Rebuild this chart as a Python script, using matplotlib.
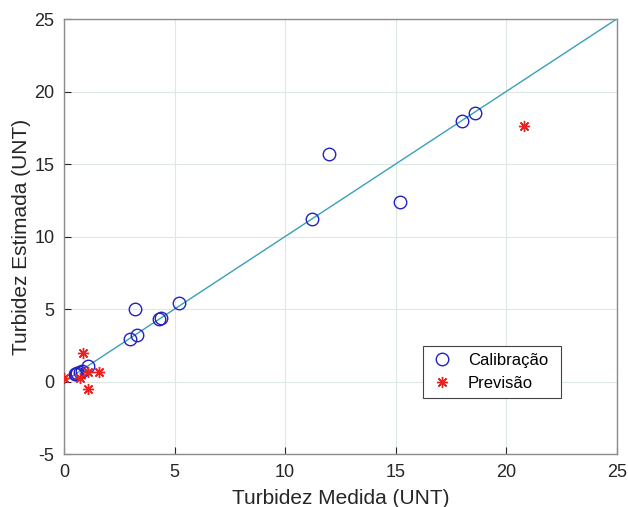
import numpy as np
import matplotlib
matplotlib.use('Agg')
import matplotlib.pyplot as plt

plt.rcParams['font.family'] = ['Liberation Sans', 'DejaVu Sans']
plt.rcParams['axes.unicode_minus'] = False

# calibration points (measured, estimated)
cal_x = [18.6, 18.0, 12.0, 11.2, 15.2, 5.2, 3.2, 4.3, 4.4, 3.3, 3.0,
         1.1, 0.5, 0.6, 0.7, 0.8, 0.55]
cal_y = [18.5, 18.0, 15.7, 11.2, 12.4, 5.4, 5.0, 4.3, 4.4, 3.2, 2.9,
         1.05, 0.55, 0.6, 0.65, 0.7, 0.5]

# prediction points
prev_x = [0.0, 0.85, 0.73, 1.1, 1.56, 1.07, 20.8]
prev_y = [0.25, 2.0, 0.27, 0.64, 0.64, -0.5, 17.6]

line_x = [0, 25]

fig = plt.figure(figsize=(6.28, 5.07), dpi=100)
ax = fig.add_axes([0.102, 0.1045, 0.880, 0.858])

ax.plot(line_x, line_x, color='#38a0b8', lw=1.0, zorder=1)
ax.plot(cal_x, cal_y, 'o', mfc='none', mec='#2222c0', ms=9, mew=1.0,
        label='Calibração', zorder=3)
ax.plot(prev_x, prev_y, ls='none', marker=(8, 2, 0), color='#ee2020',
        ms=8, mew=1.0, label='Previsão', zorder=3)

ax.set_xlim(0, 25)
ax.set_ylim(-5, 25)
ax.set_xticks([0, 5, 10, 15, 20, 25])
ax.set_yticks([-5, 0, 5, 10, 15, 20, 25])
ax.grid(True, color='#dde8e4', lw=0.8)
ax.set_axisbelow(True)
ax.tick_params(direction='in', labelsize=13, colors='#262626', length=5, pad=7)
for s in ax.spines.values():
    s.set_color('#8c8c8c')
    s.set_linewidth(1.0)

ax.set_xlabel('Turbidez Medida (UNT)', fontsize=15, color='#262626', labelpad=6)
ax.set_ylabel('Turbidez Estimada (UNT)', fontsize=15, color='#262626', labelpad=2)

leg = ax.legend(loc='lower left', bbox_to_anchor=(0.649, 0.129, 0.251, 0.110),
                mode='expand', fontsize=12, fancybox=False, framealpha=1,
                edgecolor='#444444', handlelength=1.5, borderaxespad=0)
leg.get_frame().set_linewidth(0.8)

fig.savefig('out.png', dpi=100)
